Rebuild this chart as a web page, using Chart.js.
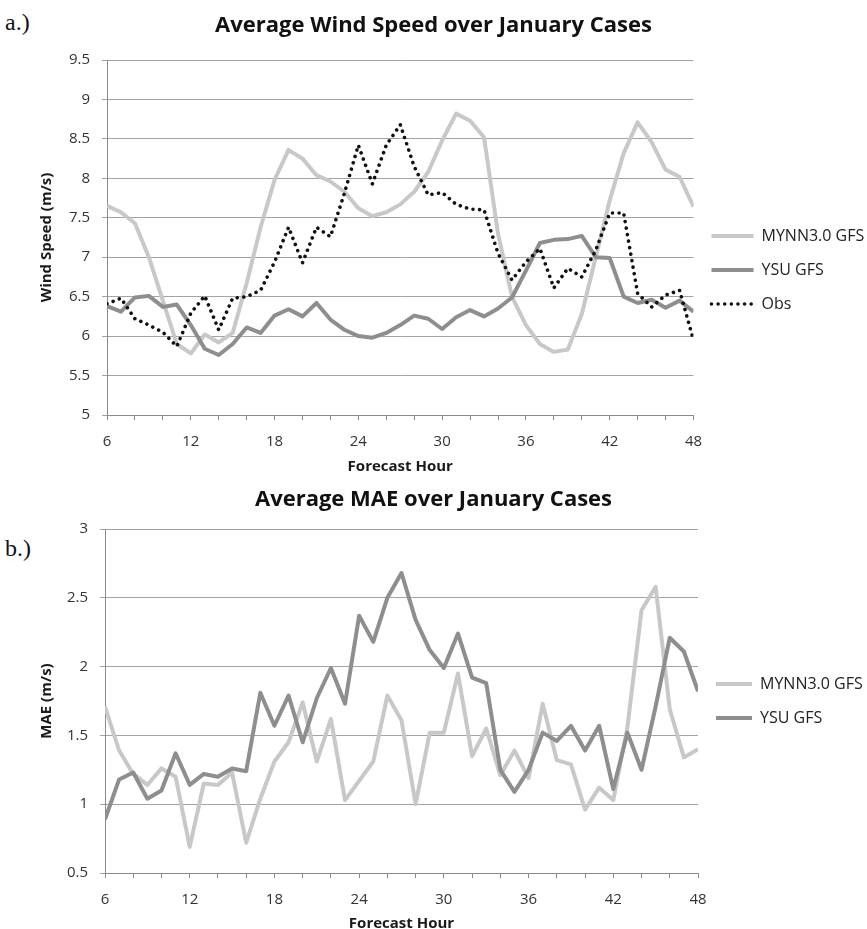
<!DOCTYPE html>
<html>
<head>
<meta charset="utf-8">
<script src="https://cdn.jsdelivr.net/npm/chart.js@4.4.1/dist/chart.umd.min.js"></script>
<style>
  html, body { margin: 0; padding: 0; background: #fff; }
  body { width: 867px; height: 929px; overflow: hidden; position: relative; }
  canvas { position: absolute; left: 0; }
  #windChart { top: 0; }
  #maeChart { top: 478px; }
  .panel-tag { position: absolute; left: 5px; font: 24px 'Liberation Serif', serif; line-height: 24px; color: #111; }
</style>
</head>
<body>
<div class="panel-tag" style="top:10px">a.)</div>
<div class="panel-tag" style="top:536px">b.)</div>
<canvas id="windChart" width="867" height="478"></canvas>
<canvas id="maeChart" width="867" height="460"></canvas>
<script>
const HOURS = [6, 7, 8, 9, 10, 11, 12, 13, 14, 15, 16, 17, 18, 19, 20, 21, 22, 23, 24, 25, 26, 27,
  28, 29, 30, 31, 32, 33, 34, 35, 36, 37, 38, 39, 40, 41, 42, 43, 44, 45, 46, 47, 48];
const HOUR_LABELS = [6, 12, 18, 24, 30, 36, 42, 48];

// wind speed (m/s)
const WIND_MYNN = [7.65, 7.57, 7.43, 7.0, 6.45, 5.9, 5.78, 6.02, 5.92, 6.04, 6.67, 7.38, 7.98, 8.36,
  8.25, 8.04, 7.96, 7.83, 7.62, 7.52, 7.57, 7.67, 7.83, 8.08, 8.48, 8.82, 8.73, 8.52, 7.3, 6.5, 6.14,
  5.9, 5.8, 5.83, 6.28, 7.0, 7.72, 8.32, 8.71, 8.46, 8.11, 8.02, 7.64];
const WIND_YSU = [6.38, 6.31, 6.49, 6.51, 6.37, 6.4, 6.14, 5.84, 5.76, 5.9, 6.11, 6.04, 6.26, 6.34,
  6.25, 6.42, 6.21, 6.08, 6.0, 5.98, 6.04, 6.14, 6.26, 6.22, 6.09, 6.24, 6.33, 6.25, 6.35, 6.49, 6.83,
  7.18, 7.22, 7.23, 7.27, 7.0, 6.99, 6.5, 6.42, 6.46, 6.36, 6.45, 6.31];
const WIND_OBS = [6.41, 6.48, 6.22, 6.14, 6.05, 5.87, 6.29, 6.51, 6.08, 6.48, 6.5, 6.58, 6.94, 7.38,
  6.93, 7.38, 7.26, 7.81, 8.42, 7.93, 8.42, 8.68, 8.15, 7.79, 7.82, 7.67, 7.61, 7.6, 7.05, 6.71, 6.94,
  7.11, 6.61, 6.86, 6.75, 7.09, 7.56, 7.56, 6.54, 6.37, 6.52, 6.58, 5.95];

// mean absolute error (m/s)
const MAE_MYNN = [1.71, 1.39, 1.22, 1.14, 1.26, 1.2, 0.69, 1.15, 1.14, 1.23, 0.72, 1.04, 1.31, 1.45,
  1.74, 1.31, 1.62, 1.03, 1.17, 1.31, 1.79, 1.61, 1.0, 1.52, 1.52, 1.95, 1.35, 1.55, 1.21, 1.39, 1.19,
  1.73, 1.32, 1.29, 0.96, 1.12, 1.03, 1.56, 2.41, 2.58, 1.69, 1.34, 1.4];
const MAE_YSU = [0.89, 1.18, 1.23, 1.04, 1.1, 1.37, 1.14, 1.22, 1.2, 1.26, 1.24, 1.81, 1.57, 1.79,
  1.45, 1.77, 1.99, 1.73, 2.37, 2.18, 2.5, 2.68, 2.34, 2.12, 1.99, 2.24, 1.92, 1.88, 1.25, 1.09, 1.25,
  1.52, 1.46, 1.57, 1.39, 1.57, 1.11, 1.52, 1.25, 1.71, 2.21, 2.11, 1.82];

const FONT = "'Open Sans', sans-serif";
const AXIS_GRAY = '#8c8c8c';
const GRID_GRAY = '#a3a3a3';
const MYNN_GRAY = '#c8c8c8';
const YSU_GRAY = '#8e8e8e';

const xAxis = (height, titlePad) => ({
  type: 'linear',
  min: 6,
  max: 48,
  afterFit: scale => { scale.height = height; },
  ticks: {
    stepSize: 2,
    autoSkip: false,
    maxRotation: 0,
    padding: 13,
    color: '#333',
    font: { family: FONT, size: 15 },
    callback: v => HOUR_LABELS.includes(v) ? String(v) : ''
  },
  grid: { drawOnChartArea: false, drawTicks: true, tickLength: 5, color: AXIS_GRAY },
  border: { color: AXIS_GRAY, width: 1 },
  title: {
    display: true,
    text: 'Forecast Hour',
    color: '#1a1a1a',
    font: { family: FONT, size: 15, weight: 'bold' },
    padding: { top: 0, bottom: titlePad }
  }
});

const yAxis = (min, max, width, text) => ({
  type: 'linear',
  min: min,
  max: max,
  afterFit: scale => { scale.width = width; },
  ticks: {
    stepSize: 0.5,
    padding: 12,
    color: '#333',
    font: { family: FONT, size: 15 },
    callback: v => String(v)
  },
  grid: { color: GRID_GRAY, lineWidth: 1, tickLength: 5 },
  border: { color: AXIS_GRAY, width: 1 },
  title: {
    display: true,
    text: text,
    color: '#1a1a1a',
    font: { family: FONT, size: 15, weight: 'bold' },
    padding: { top: 38, bottom: 0 }
  }
});

const lineSeries = (label, data, color, order) => ({
  label: label,
  data: data,
  borderColor: color,
  backgroundColor: color,
  borderWidth: 4,
  borderJoinStyle: 'round',
  pointRadius: 0,
  tension: 0,
  order: order
});

// legend samples take the dataset's own line style (point style would drop the dash)
const legendItems = chart =>
  Chart.defaults.plugins.legend.labels.generateLabels(chart).map(item => {
    const ds = chart.data.datasets[item.datasetIndex];
    item.strokeStyle = ds.borderColor;
    item.lineWidth = ds.borderWidth;
    item.lineDash = ds.borderDash || [];
    item.lineCap = ds.borderCapStyle || 'butt';
    return item;
  });

const legendOpts = (maxWidth, spacer, boxWidth, fullSize) => ({
  position: 'right',
  align: 'center',
  fullSize: fullSize,
  maxWidth: maxWidth,
  title: { display: spacer > 0, text: ' ', padding: { top: 0, bottom: Math.max(spacer - 19.2, 0) }, font: { size: 16 } },
  labels: {
    usePointStyle: true,
    pointStyle: 'line',
    pointStyleWidth: boxWidth,
    padding: 18,
    color: '#222',
    font: { family: FONT, size: 16 },
    generateLabels: legendItems,
    sort: (a, b) => a.datasetIndex - b.datasetIndex
  }
});

const titleOpts = (text, top, bottom) => ({
  display: true,
  text: text,
  color: '#111',
  font: { family: FONT, size: 22, weight: 'bold' },
  padding: { top: top, bottom: bottom }
});

const buildWindChart = () => {
  const obs = lineSeries('Obs', WIND_OBS, '#111', 1);
  obs.borderWidth = 3.6;
  obs.borderDash = [0.01, 6.6];
  obs.borderCapStyle = 'round';

  new Chart(document.getElementById('windChart'), {
    type: 'line',
    data: {
      labels: HOURS,
      datasets: [
        lineSeries('MYNN3.0 GFS', WIND_MYNN, MYNN_GRAY, 3),
        lineSeries('YSU GFS', WIND_YSU, YSU_GRAY, 2),
        obs
      ]
    },
    options: {
      responsive: false,
      animation: false,
      layout: { padding: 0 },
      plugins: {
        title: titleOpts('Average Wind Speed over January Cases', 13, 20.6),
        legend: legendOpts(173.5, 62, 42, true),
        tooltip: { enabled: false }
      },
      scales: {
        x: xAxis(63, 2),
        y: yAxis(5, 9.5, 107, 'Wind Speed (m/s)')
      }
    }
  });
}

const buildMaeChart = () => {
  new Chart(document.getElementById('maeChart'), {
    type: 'line',
    data: {
      labels: HOURS,
      datasets: [
        lineSeries('MYNN3.0 GFS', MAE_MYNN, MYNN_GRAY, 2),
        lineSeries('YSU GFS', MAE_YSU, YSU_GRAY, 1)
      ]
    },
    options: {
      responsive: false,
      animation: false,
      layout: { padding: 0 },
      plugins: {
        title: titleOpts('Average MAE over January Cases', 8.8, 15.8),
        legend: legendOpts(169, 0, 36, false),
        tooltip: { enabled: false }
      },
      scales: {
        x: xAxis(65, 5),
        y: yAxis(0.5, 3, 105, 'MAE (m/s)')
      }
    }
  });
}

Promise.all([
  document.fonts.load("bold 22px 'Open Sans'"),
  document.fonts.load("15px 'Open Sans'")
]).catch(err => console.error(err)).then(() => {
  buildWindChart();
  buildMaeChart();
});
</script>
</body>
</html>
